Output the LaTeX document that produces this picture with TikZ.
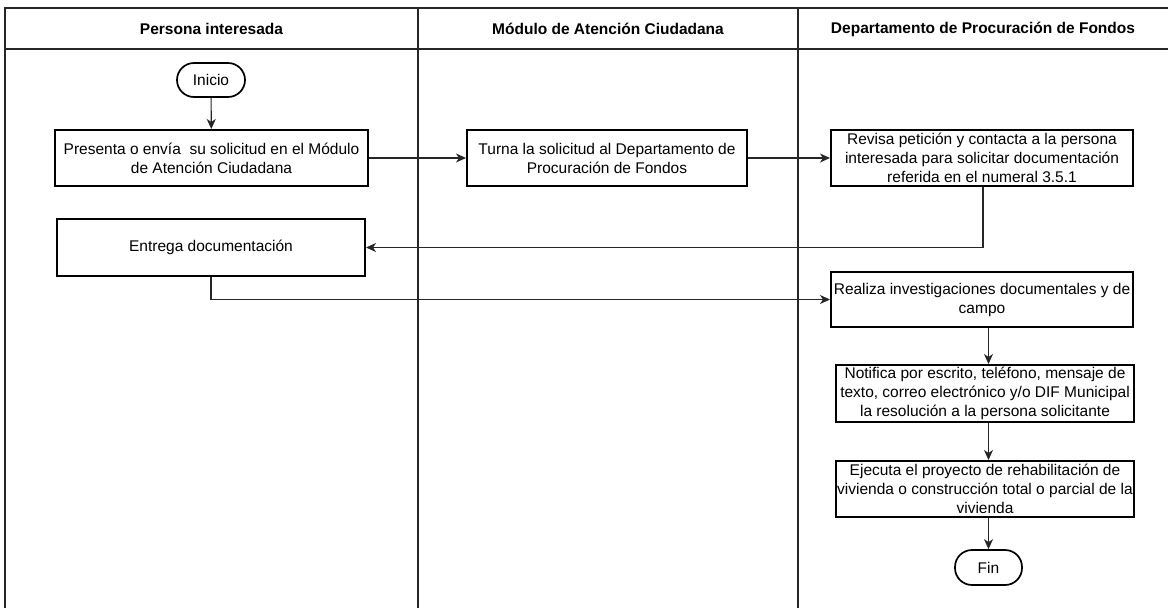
\documentclass[tikz,border=0pt]{standalone}
\usepackage{fontspec}
\setmainfont{Liberation Sans}
\usetikzlibrary{arrows.meta,positioning}
\begin{document}
\begin{tikzpicture}[x=1pt,y=-1pt,
  lane/.style={line width=1.3pt,draw=black!85},
  head/.style={font=\fontsize{15.5}{19}\selectfont\bfseries,anchor=center},
  proc/.style={draw=black,line width=2pt,align=center,inner sep=1pt,
     font=\fontsize{15.5}{19}\selectfont},
  termbox/.style={draw=black,line width=1.7pt,rounded corners=17pt,inner sep=1pt,
     font=\fontsize{15.5}{19}\selectfont},
  conn/.style={line width=1.1pt,draw=black!85,-{Stealth[length=10pt,width=9pt,inset=3pt]}},
]
\useasboundingbox (0,0) rectangle (1168,608);
% lanes
\draw[lane] (5,608) -- (5,8) -- (1168,8);
\draw[lane] (5,49) -- (1168,49);
\draw[lane] (418,8) -- (418,608);
\draw[lane] (798,8) -- (798,608);
\node[head] (h1) at (211.5,29) {Persona interesada};
\node[head] (h2) at (608,29) {Módulo de Atención Ciudadana};
\node[head] (h3) at (983,29) {Departamento de Procuración de Fondos};
% nodes
\node[termbox,minimum width=68pt,minimum height=34pt] (inicio) at (211,80) {Inicio};
\node[proc,minimum width=313pt,minimum height=56pt] (presenta) at (211.5,158) {Presenta o envía\ \ su solicitud en el Módulo\\de Atención Ciudadana};
\node[proc,minimum width=308pt,minimum height=57pt] (entrega) at (211,247.5) {Entrega documentación};
\node[proc,minimum width=280pt,minimum height=56pt] (turna) at (607,158) {Turna la solicitud al Departamento de\\Procuración de Fondos};
\node[proc,minimum width=302pt,minimum height=56pt] (revisa) at (982,158) {Revisa petición y contacta a la persona\\interesada para solicitar documentación\\referida en el numeral 3.5.1};
\node[proc,minimum width=302pt,minimum height=55pt] (realiza) at (982,299.5) {Realiza investigaciones documentales y de\\campo};
\node[proc,minimum width=298pt,minimum height=57pt] (notifica) at (985,393.5) {Notifica por escrito, teléfono, mensaje de\\texto, correo electrónico y/o DIF Municipal\\la resolución a la persona solicitante};
\node[proc,minimum width=298pt,minimum height=56pt] (ejecuta) at (985,489) {Ejecuta el proyecto de rehabilitación de\\vivienda o construcción total o parcial de la\\vivienda};
\node[termbox,minimum width=67pt,minimum height=35pt] (fin) at (988.5,567.5) {Fin};
% connectors
\draw[conn] (inicio) -- (presenta);
\draw[conn] (presenta.east) -- (turna.west);
\draw[conn] (turna.east) -- (revisa.west);
\draw[conn] (revisa.south -| 983,0) |- (entrega.east);
\draw[conn] (entrega.south) |- (realiza.west);
\draw[conn] (realiza.south -| fin.north) -- (notifica.north -| fin.north);
\draw[conn] (notifica.south -| fin.north) -- (ejecuta.north -| fin.north);
\draw[conn] (ejecuta.south -| fin.north) -- (fin.north);
\end{tikzpicture}
\end{document}
